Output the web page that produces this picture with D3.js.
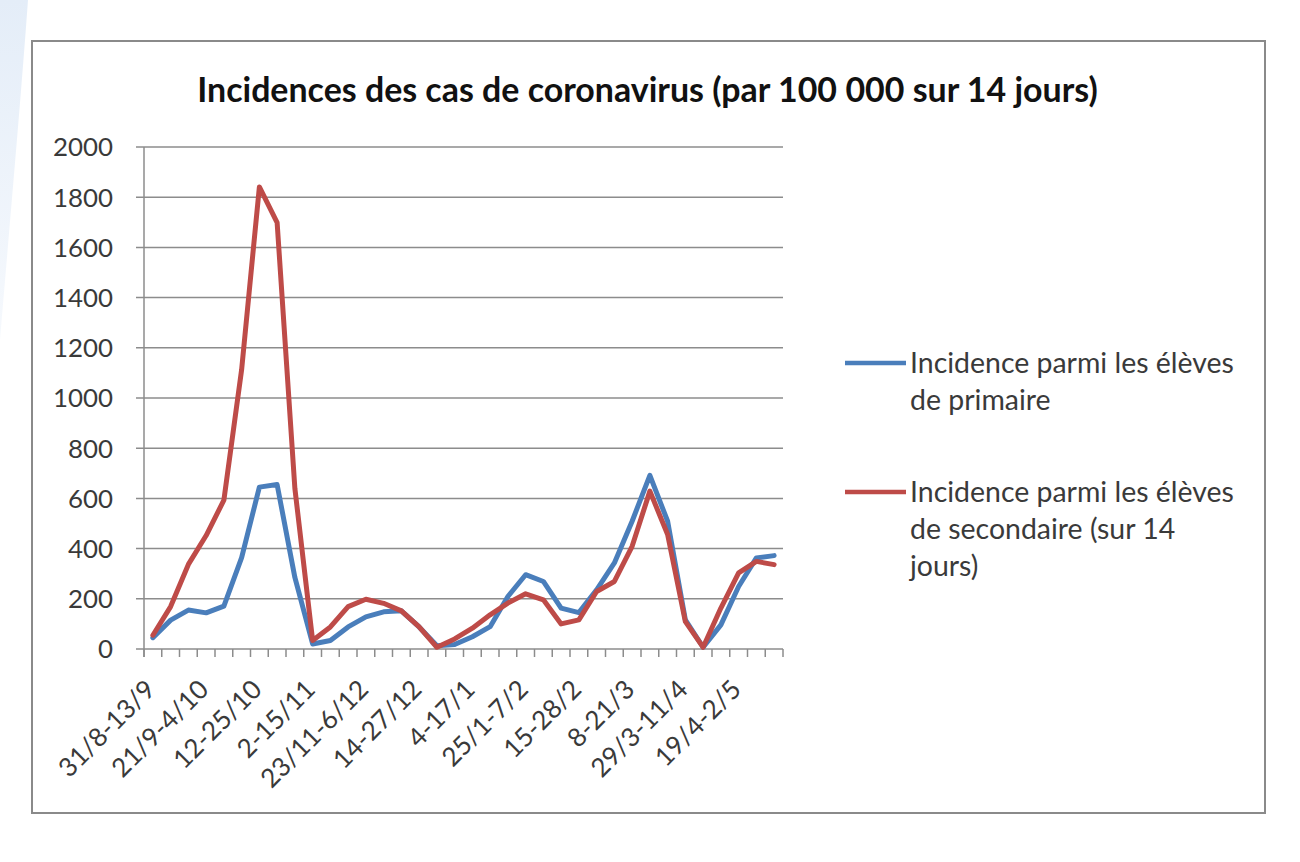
<!DOCTYPE html>
<html>
<head>
<meta charset="utf-8">
<script src="https://cdn.jsdelivr.net/npm/d3@7"></script>
<style>
  html, body { margin: 0; padding: 0; background: #ffffff; }
  svg { display: block; }
</style>
</head>
<body>
<svg id="chart" width="1300" height="862"></svg>
<script>
// ---------------- DATA ----------------
const categories = [
  "31/8-13/9", "7/9-20/9", "14/9-27/9", "21/9-4/10", "28/9-11/10", "5/10-18/10",
  "12-25/10", "19/10-1/11", "26/10-8/11", "2-15/11", "9/11-22/11", "16/11-29/11",
  "23/11-6/12", "30/11-13/12", "7/12-20/12", "14-27/12", "21/12-3/1", "28/12-10/1",
  "4-17/1", "11/1-24/1", "18/1-31/1", "25/1-7/2", "1/2-14/2", "8/2-21/2",
  "15-28/2", "22/2-7/3", "1/3-14/3", "8-21/3", "15/3-28/3", "22/3-4/4",
  "29/3-11/4", "5/4-18/4", "12/4-25/4", "19/4-2/5", "26/4-9/5", "3/5-16/5"
];
const shownLabels = [
  "31/8-13/9", "21/9-4/10", "12-25/10", "2-15/11", "23/11-6/12", "14-27/12",
  "4-17/1", "25/1-7/2", "15-28/2", "8-21/3", "29/3-11/4", "19/4-2/5"
];
const primaire = [
  45, 115, 155, 144, 171, 364, 645, 655, 285, 20, 34, 88,
  128, 148, 152, 88, 13, 18, 49, 89, 209, 296, 269, 163,
  145, 236, 343, 509, 692, 509, 116, 7, 96, 249, 363, 372
];
const secondaire = [
  55, 169, 337, 452, 593, 1113, 1841, 1699, 640, 34, 88, 169,
  198, 182, 152, 88, 7, 40, 83, 136, 183, 220, 196, 100,
  116, 229, 269, 409, 629, 456, 109, 7, 163, 303, 349, 336
];
const yTicks = [0, 200, 400, 600, 800, 1000, 1200, 1400, 1600, 1800, 2000];
const titleText = "Incidences des cas de coronavirus (par 100\u202F000 sur 14 jours)";
const legendPrimaire = ["Incidence parmi les élèves", "de primaire"];
const legendSecondaire = ["Incidence parmi les élèves", "de secondaire (sur 14", "jours)"];

// ---------------- LAYOUT ----------------
const FONT = "Lato, 'Open Sans', 'DejaVu Sans', sans-serif";
const svg = d3.select("#chart");
const plot = { left: 144, right: 783, top: 147, bottom: 649 };
const BLUE = "#4a7ebb", RED = "#be4b48", GRID = "#8c8c8c", TXT = "#3a3a3a";

function fitSize(text, weight, target) {
  const t = svg.append("text").attr("font-family", FONT).attr("font-weight", weight)
    .attr("font-size", 100).text(text);
  const w = t.node().getComputedTextLength();
  t.remove();
  return 100 * target / w;
}

// background decoration at left edge
const defs = svg.append("defs");
const grad = defs.append("linearGradient").attr("id", "deco").attr("x1", 0).attr("y1", 0).attr("x2", 0).attr("y2", 1);
grad.append("stop").attr("offset", "0%").attr("stop-color", "#e4edf8");
grad.append("stop").attr("offset", "100%").attr("stop-color", "#f6f9fd");
svg.append("path").attr("d", "M0,0 L28,0 C20,110 10,220 0,340 Z").attr("fill", "url(#deco)");

// chart frame
svg.append("rect").attr("x", 32).attr("y", 41).attr("width", 1233).attr("height", 772)
  .attr("fill", "#ffffff").attr("stroke", "#8a8a8a").attr("stroke-width", 2);

// scales
const x = d3.scaleBand().domain(categories).range([plot.left, plot.right]).padding(0);
const y = d3.scaleLinear().domain([0, 2000]).range([plot.bottom, plot.top]);
const cx = c => x(c) + x.bandwidth() / 2;

// gridlines + y ticks
svg.append("g").selectAll("line").data(yTicks).join("line")
  .attr("x1", plot.left - 8).attr("x2", plot.right)
  .attr("y1", d => y(d)).attr("y2", d => y(d))
  .attr("stroke", GRID).attr("stroke-width", 1.5);

// y axis line
svg.append("line").attr("x1", plot.left).attr("x2", plot.left)
  .attr("y1", plot.top).attr("y2", plot.bottom + 8)
  .attr("stroke", GRID).attr("stroke-width", 1.5);

// category ticks (boundaries)
const bounds = categories.map(c => x(c)).concat([plot.right]);
svg.append("g").selectAll("line").data(bounds).join("line")
  .attr("x1", d => d).attr("x2", d => d)
  .attr("y1", plot.bottom).attr("y2", plot.bottom + 8)
  .attr("stroke", GRID).attr("stroke-width", 1.5);

// y labels
const ySize = fitSize("2000", 400, 60);
svg.append("g").selectAll("text").data(yTicks).join("text")
  .attr("x", 113).attr("y", d => y(d)).attr("dy", "0.36em")
  .attr("text-anchor", "end").attr("font-family", FONT).attr("font-size", ySize)
  .attr("fill", TXT).text(d => d);

// x labels
const xSize = fitSize("31/8-13/9", 400, 124);
svg.append("g").selectAll("text").data(shownLabels).join("text")
  .attr("transform", d => `translate(${cx(d) + 4},${691}) rotate(-45)`)
  .attr("text-anchor", "end").attr("font-family", FONT).attr("font-size", xSize)
  .attr("fill", TXT).text(d => d);

// lines
const line = d3.line().x((d, i) => cx(categories[i])).y(d => y(d));
svg.append("path").datum(primaire).attr("d", line).attr("fill", "none")
  .attr("stroke", BLUE).attr("stroke-width", 5).attr("stroke-linejoin", "round").attr("stroke-linecap", "round");
svg.append("path").datum(secondaire).attr("d", line).attr("fill", "none")
  .attr("stroke", RED).attr("stroke-width", 5).attr("stroke-linejoin", "round").attr("stroke-linecap", "round");

// title
const tSize = fitSize(titleText, 700, 901);
svg.append("text").attr("x", 647.5).attr("y", 90).attr("dy", "0.36em")
  .attr("text-anchor", "middle").attr("font-family", FONT).attr("font-weight", 700)
  .attr("font-size", tSize).attr("fill", "#111").text(titleText);

// legend
const lSize = fitSize(legendPrimaire[0], 400, 324);
const legendItems = [
  { color: BLUE, lines: legendPrimaire, y0: 363 },
  { color: RED, lines: legendSecondaire, y0: 492 }
];
const lg = svg.append("g");
legendItems.forEach(it => {
  lg.append("line").attr("x1", 845).attr("x2", 906).attr("y1", it.y0).attr("y2", it.y0)
    .attr("stroke", it.color).attr("stroke-width", 4.5);
  lg.append("g").selectAll("text").data(it.lines).join("text")
    .attr("x", 910).attr("y", (d, i) => it.y0 + i * 37).attr("dy", "0.36em")
    .attr("font-family", FONT).attr("font-size", lSize).attr("fill", TXT).text(d => d);
});
</script>
</body>
</html>
